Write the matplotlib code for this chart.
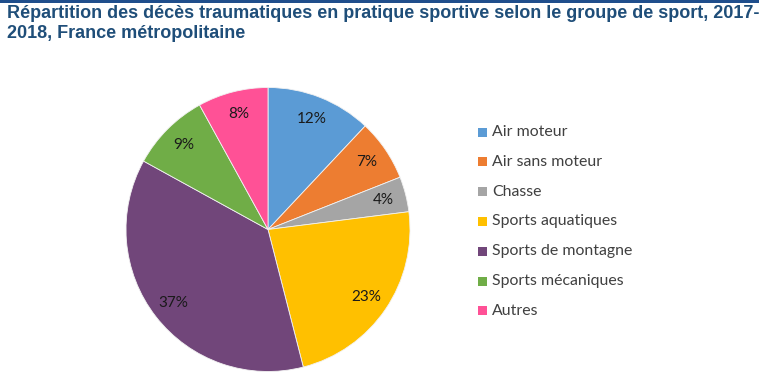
import matplotlib
matplotlib.use("Agg")
import matplotlib.pyplot as plt
from matplotlib.patches import Rectangle

categories = ["Air moteur", "Air sans moteur", "Chasse", "Sports aquatiques",
              "Sports de montagne", "Sports mécaniques", "Autres"]
values = [12, 7, 4, 23, 37, 9, 8]
colors = ["#5B9BD5", "#ED7D31", "#A5A5A5", "#FFC000", "#71467A", "#70AD47", "#FF5196"]
title = "Répartition des décès traumatiques en pratique sportive selon le groupe de sport, 2017-\n2018, France métropolitaine"

W, H = 759, 379
fig = plt.figure(figsize=(W / 100, H / 100), dpi=100)
fig.patch.set_facecolor("white")

# top rule
fig.add_artist(Rectangle((0, 1 - 3 / H), 1, 3 / H, transform=fig.transFigure,
                         color="#1F4E8C", lw=0))

fig.text(7 / W, 1 - 5 / H, title, ha="left", va="top", fontsize=13,
         fontweight="bold", color="#1F4E79", family="Liberation Sans",
         linespacing=1.22)

cx, cy, r = 268, 229.5, 142
ax = fig.add_axes([(cx - r) / W, (H - cy - r) / H, 2 * r / W, 2 * r / H])
wedges, texts = ax.pie(values, colors=colors, startangle=90, counterclock=False,
                       radius=1, labels=[f"{v}%" for v in values],
                       labeldistance=0.84,
                       wedgeprops=dict(edgecolor="#F2F2F2", linewidth=0.6),
                       textprops=dict(fontsize=11, family="Lato", color="#1a1a1a"))
for t in texts:
    t.set_ha("center")
    t.set_va("center")
ax.set_xlim(-1.0, 1.0)
ax.set_ylim(-1.0, 1.0)
ax.set_aspect("equal")
ax.axis("off")

# legend
lx, ly0, dy = 478, 132, 29.8
for i, (c, lab) in enumerate(zip(colors, categories)):
    y = ly0 + i * dy
    fig.add_artist(Rectangle((lx / W, 1 - (y + 4.5) / H), 9 / W, 9 / H,
                             transform=fig.transFigure, color=c, lw=0))
    fig.text((lx + 14) / W, 1 - y / H, lab, ha="left", va="center",
             fontsize=11.4, family="Lato", color="#404040")

fig.savefig("out.png", dpi=100, facecolor="white")
